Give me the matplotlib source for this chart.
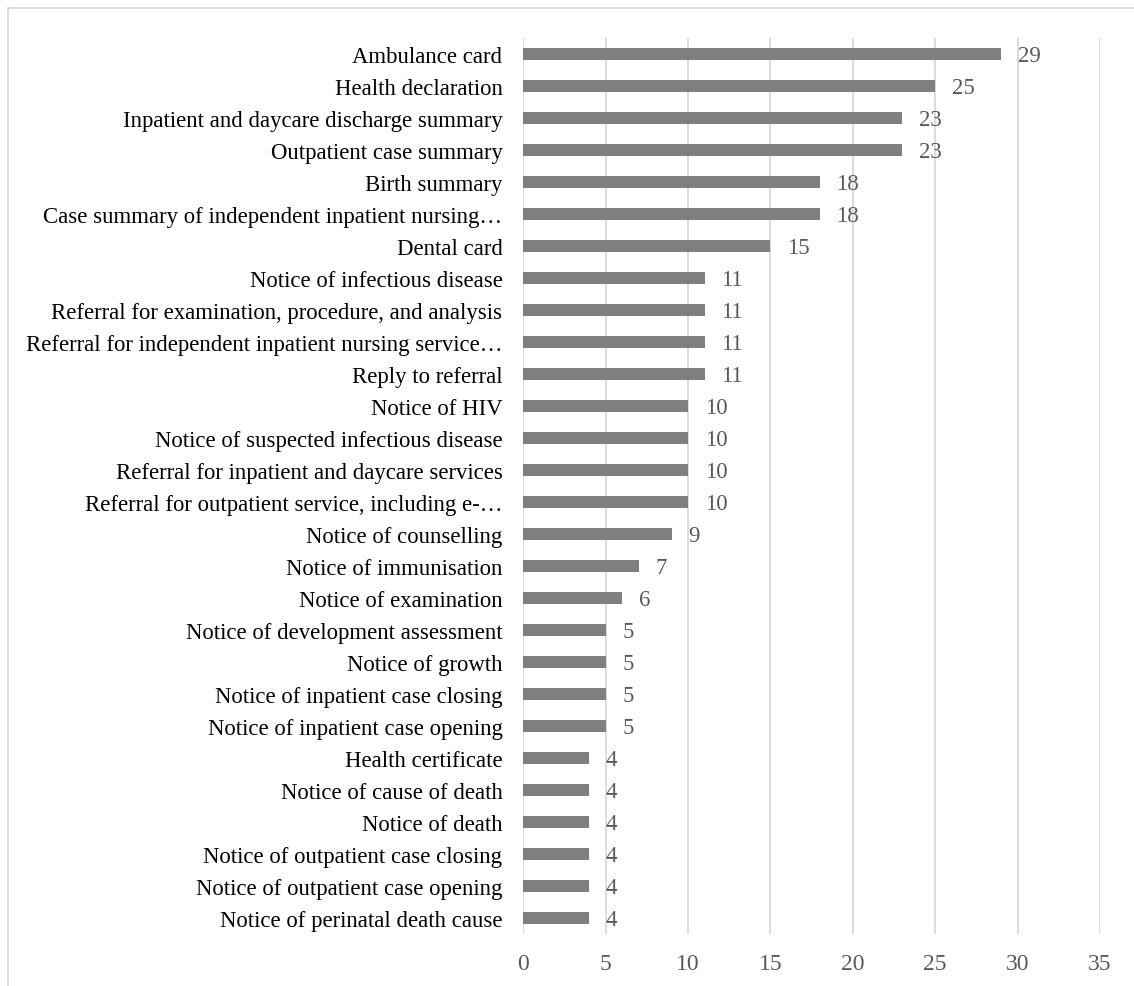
import matplotlib
matplotlib.use("Agg")
from matplotlib import pyplot as plt
from matplotlib.lines import Line2D

categories = [
  "Ambulance card",
  "Health declaration",
  "Inpatient and daycare discharge summary",
  "Outpatient case summary",
  "Birth summary",
  "Case summary of independent inpatient nursing\u2026",
  "Dental card",
  "Notice of infectious disease",
  "Referral for examination, procedure, and analysis",
  "Referral for independent inpatient nursing service\u2026",
  "Reply to referral",
  "Notice of HIV",
  "Notice of suspected infectious disease",
  "Referral for inpatient and daycare services",
  "Referral for outpatient service, including e-\u2026",
  "Notice of counselling",
  "Notice of immunisation",
  "Notice of examination",
  "Notice of development assessment",
  "Notice of growth",
  "Notice of inpatient case closing",
  "Notice of inpatient case opening",
  "Health certificate",
  "Notice of cause of death",
  "Notice of death",
  "Notice of outpatient case closing",
  "Notice of outpatient case opening",
  "Notice of perinatal death cause",
]
counts = [29, 25, 23, 23, 18, 18, 15, 11, 11, 11, 11, 10, 10, 10, 10,
          9, 7, 6, 5, 5, 5, 5, 4, 4, 4, 4, 4, 4]
x_ticks = [0, 5, 10, 15, 20, 25, 30, 35]

plt.rcParams['font.family'] = ['Liberation Serif', 'DejaVu Serif']

GRID = '#d9d9d9'
BAR = '#7f7f7f'
TXT = '#595959'

fig = plt.figure(figsize=(11.34, 9.87), dpi=100)
ax = fig.add_axes([523.3 / 1134, 1 - 935 / 987, (1100 - 523.3) / 1134, (935 - 39) / 987])

y = list(range(len(categories)))
ax.barh(y, counts, height=0.35, color=BAR, zorder=3)
for yi, v in zip(y, counts):
  ax.text(v + 1.0, yi + 0.05, str(v), va='center', ha='left', fontsize=16.5, color=TXT, zorder=4)

ax.set_xlim(0, 35)
ax.set_ylim(len(categories) - 0.5, -0.5)
ax.set_xticks(x_ticks)
ax.set_yticks(y)
ax.set_yticklabels(categories, fontsize=16.4, color='black')
ax.tick_params(axis='x', length=0, pad=14, labelsize=17, labelcolor=TXT)
ax.tick_params(axis='y', length=0, pad=15)
ax.grid(axis='x', color=GRID, linewidth=1.3, zorder=0)
for s in ax.spines.values():
  s.set_visible(False)

# outer frame (left and top edges visible)
fig.add_artist(Line2D([8 / 1134, 8 / 1134], [0, 1 - 9 / 987], color=GRID, linewidth=1.3))
fig.add_artist(Line2D([8 / 1134, 1], [1 - 9 / 987, 1 - 9 / 987], color=GRID, linewidth=1.3))

plt.savefig('out.png', dpi=100)
